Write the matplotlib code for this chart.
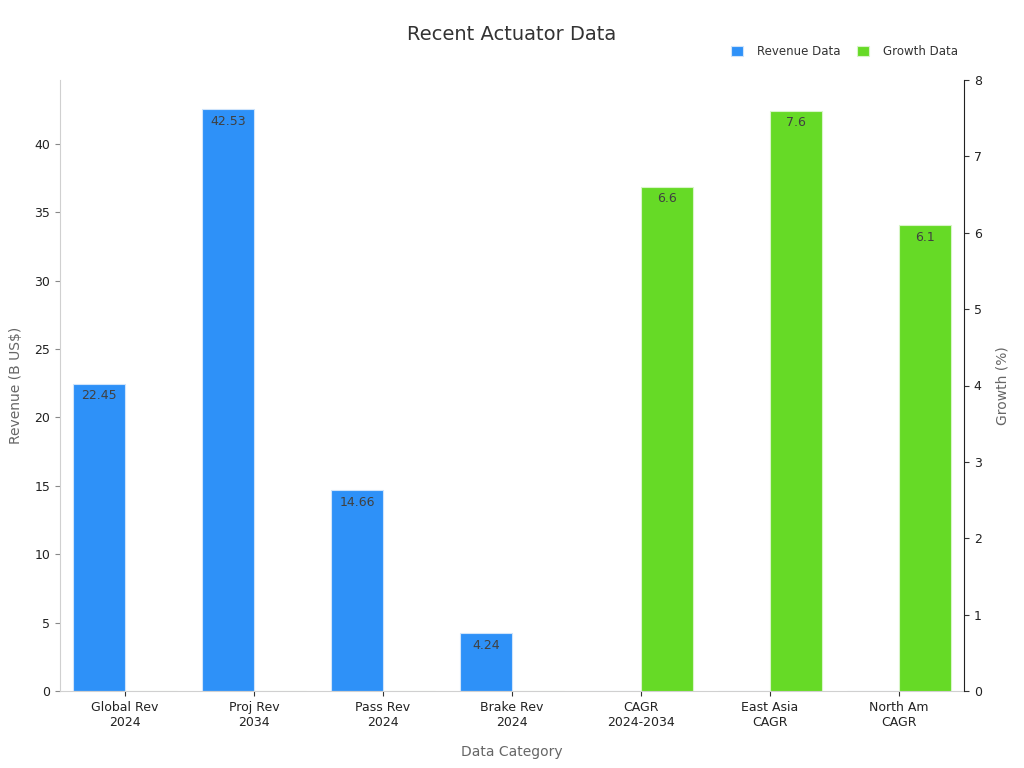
import numpy as np
import matplotlib
matplotlib.use('Agg')
import matplotlib.pyplot as plt

categories = ['Global Rev\n2024', 'Proj Rev\n2034', 'Pass Rev\n2024', 'Brake Rev\n2024',
              'CAGR\n2024-2034', 'East Asia\nCAGR', 'North Am\nCAGR']
revenue = [22.45, 42.53, 14.66, 4.24, 0, 0, 0]
growth = [0, 0, 0, 0, 6.6, 7.6, 6.1]

blue = '#2E91F8'
green = '#66DA26'

fig = plt.figure(figsize=(10.24, 7.68), dpi=100)
ax = fig.add_axes([60/1024, 77/768, 904/1024, 611/768])
ax2 = ax.twinx()

x = np.arange(len(categories))
w = 0.4

rb = ax.bar(x - w/2, revenue, w, color=blue, edgecolor='#cfe4fb', linewidth=0.8, label='Revenue Data')
gb = ax2.bar(x + w/2, growth, w, color=green, edgecolor='#d8f5c8', linewidth=0.8, label='Growth Data')

for b, v in zip(rb, revenue):
    if v > 0:
        ax.annotate(f'{v}', (b.get_x() + b.get_width()/2, v), xytext=(0, -4),
                    textcoords='offset points', ha='center', va='top', fontsize=9, color='#404040')
for b, v in zip(gb, growth):
    if v > 0:
        ax2.annotate(f'{v}', (b.get_x() + b.get_width()/2, v), xytext=(0, -4),
                     textcoords='offset points', ha='center', va='top', fontsize=9, color='#404040')

ax.set_xlim(-0.504, 6.504)
ax.set_ylim(0, max(revenue) * 1.05)
ax2.set_ylim(0, 8)
ax.set_xticks(x)
ax.set_xticklabels(categories, fontsize=9, color='#222222')
ax.tick_params(axis='y', labelsize=9, colors='#222222')
ax.tick_params(axis='y', color='#888888')
ax.tick_params(axis='x', color='#333333')
ax2.tick_params(axis='y', labelsize=9, colors='#222222', color='#333333')

ax.spines['top'].set_visible(False)
ax2.spines['top'].set_visible(False)
ax.spines['right'].set_visible(False)
ax2.spines['left'].set_visible(False)
ax2.spines['bottom'].set_visible(False)
ax.spines['left'].set_color('#d0d0d0')
ax.spines['bottom'].set_color('#d0d0d0')
ax2.spines['right'].set_color('#222222')

ax.set_xlabel('Data Category', fontsize=10, color='#666666', labelpad=12)
ax.set_ylabel('Revenue (B US$)', fontsize=10, color='#666666', labelpad=8)
ax2.set_ylabel('Growth (%)', fontsize=10, color='#666666', labelpad=10)

fig.suptitle('Recent Actuator Data', fontsize=14, color='#333333', y=0.968)

fig.legend([rb, gb], ['Revenue Data', 'Growth Data'], loc='upper right',
           bbox_to_anchor=(0.946, 0.955), ncol=2, frameon=False, fontsize=8.5,
           handlelength=1.0, handleheight=1.0, handletextpad=1.2, columnspacing=1.4,
           labelcolor='#333333')

fig.savefig('out.png', dpi=100)
